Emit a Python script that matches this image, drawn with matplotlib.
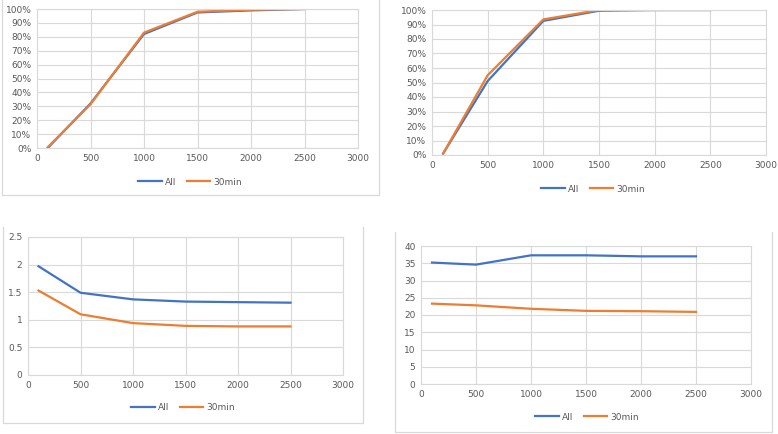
import numpy as np
import matplotlib
matplotlib.use("Agg")
from matplotlib import pyplot as plt
from matplotlib.lines import Line2D
from matplotlib.ticker import PercentFormatter, FuncFormatter

x = [100, 500, 1000, 1500, 2000, 2500]

# top left: cumulative share
tl_all = [0.00, 0.32, 0.82, 0.975, 0.99, 1.00]
tl_30 = [0.005, 0.315, 0.83, 0.98, 0.995, 1.00]
# top right: cumulative share
tr_all = [0.01, 0.51, 0.925, 0.995, 1.00, 1.00]
tr_30 = [0.01, 0.55, 0.935, 1.00, 1.00, 1.00]
# bottom left
bl_all = [1.97, 1.49, 1.37, 1.33, 1.32, 1.31]
bl_30 = [1.53, 1.10, 0.94, 0.89, 0.88, 0.88]
# bottom right
br_all = [35.2, 34.6, 37.3, 37.3, 37.0, 37.0]
br_30 = [23.3, 22.8, 21.8, 21.2, 21.1, 20.9]

BLUE = "#4472C4"
ORANGE = "#ED7D31"
GRID = "#D9D9D9"
TXT = "#595959"

W, H = 778, 434
fig = plt.figure(figsize=(W / 100, H / 100), dpi=100)


def px_axes(l, t, r, b):
    return fig.add_axes([l / W, 1 - b / H, (r - l) / W, (b - t) / H])


def panel_box(l, t, r, b):
    # light grey chart border, open at the top (pixel coords)
    xs = [l / W, l / W, r / W, r / W]
    ys = [1 - t / H, 1 - b / H, 1 - b / H, 1 - t / H]
    fig.add_artist(Line2D(xs, ys, transform=fig.transFigure,
                          color=GRID, linewidth=0.9))


def draw(box, ya, yb, ymax, ystep, pct, leg_xy):
    ax = px_axes(*box)
    ax.plot(x, ya, color=BLUE, linewidth=1.6, label="All")
    ax.plot(x, yb, color=ORANGE, linewidth=1.6, label="30min")
    ax.set_xlim(0, 3000)
    ax.set_ylim(0, ymax)
    ax.set_xticks(np.arange(0, 3001, 500))
    ax.set_yticks(np.arange(0, ymax + ystep / 2, ystep))
    if pct:
        ax.yaxis.set_major_formatter(PercentFormatter(1.0, decimals=0))
    else:
        ax.yaxis.set_major_formatter(FuncFormatter(lambda v, p: f"{v:g}"))
    ax.grid(True, color=GRID, linewidth=0.8)
    ax.set_axisbelow(True)
    for s in ax.spines.values():
        s.set_color(GRID)
        s.set_linewidth(0.8)
    ax.tick_params(length=0, labelsize=6.5, colors=TXT, pad=4)
    fig.legend(handles=ax.get_lines(), loc="center",
               bbox_to_anchor=(leg_xy[0] / W, 1 - leg_xy[1] / H),
               ncol=2, frameon=False, fontsize=6.5, labelcolor=TXT,
               handlelength=2.6, columnspacing=1.2, handletextpad=0.3)
    return ax


panel_box(2, -10, 379, 195)
panel_box(3, 227, 363, 423)
panel_box(395, 232, 772, 432)

draw((37, 9, 358, 148), tl_all, tl_30, 1.0, 0.1, True, (190, 182))
draw((432, 10, 766, 155), tr_all, tr_30, 1.0, 0.1, True, (593, 189))
draw((28, 237, 343, 375), bl_all, bl_30, 2.5, 0.5, False, (183, 408))
draw((421, 246, 751, 384), br_all, br_30, 40, 5, False, (587, 417))

fig.savefig("out.png", dpi=100)
